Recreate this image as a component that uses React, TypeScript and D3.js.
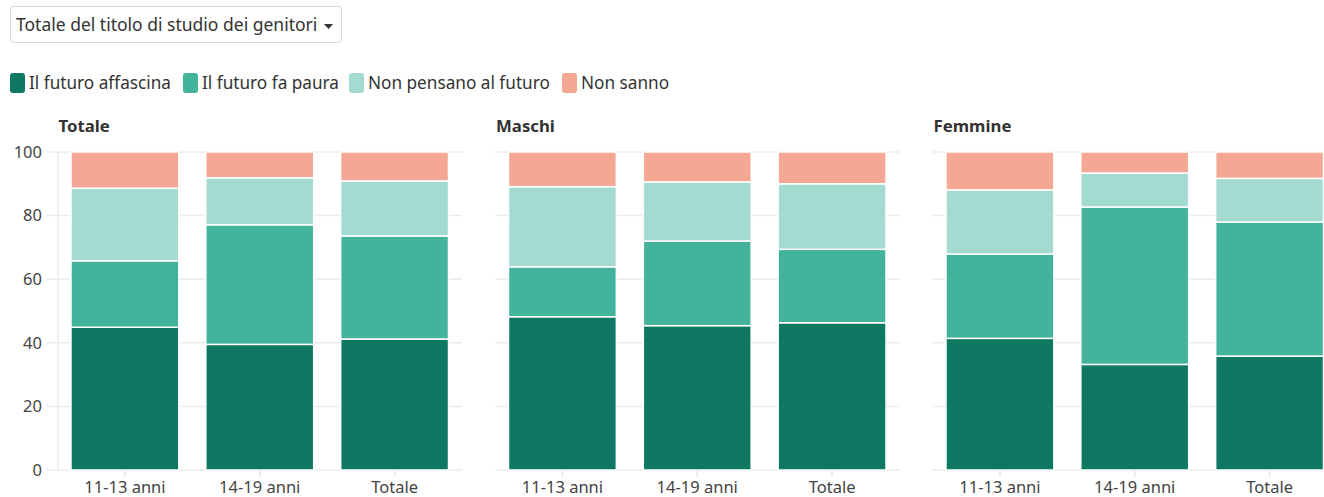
import React from "react";
import * as d3 from "d3";

const panels = ["Totale", "Maschi", "Femmine"];
const categories = ["11-13 anni", "14-19 anni", "Totale"];
const seriesNames = ["Il futuro affascina", "Il futuro fa paura", "Non pensano al futuro", "Non sanno"];
const colors = ["#0f7862", "#43b39b", "#a3dbd0", "#f4a793"];
const yTicks = [0, 20, 40, 60, 80, 100];

// values per panel, per category: [affascina, paura, non pensano, non sanno]
const totaleValues = [
  [44.9, 20.9, 22.8, 11.4],
  [39.5, 37.6, 14.8, 8.1],
  [41.2, 32.4, 17.3, 9.1],
];
const maschiValues = [
  [48.2, 15.7, 25.2, 10.9],
  [45.4, 26.6, 18.6, 9.4],
  [46.3, 23.1, 20.6, 10.0],
];
const femmineValues = [
  [41.4, 26.5, 20.2, 11.9],
  [33.2, 49.5, 10.7, 6.6],
  [35.8, 42.2, 13.7, 8.3],
];
const panelValues = [totaleValues, maschiValues, femmineValues];

const FONT = "'Noto Sans', sans-serif";

export default function App() {
  const W = 1324, H = 497;
  const top = 152, bottom = 470;
  const panelStarts = [57.5, 495, 932.5];
  const panelWidth = 404.5;
  const y = d3.scaleLinear().domain([0, 100]).range([bottom, top]);

  const legendX = [10, 183, 349, 562];

  return (
    <div style={{ position: "absolute", left: 0, top: 0, width: W, height: H, background: "#fff" }}>
      <svg width={W} height={H} style={{ display: "block", fontFamily: FONT }}>
        {/* dropdown */}
        <rect x={10.5} y={6.5} width={331} height={36} rx={3} fill="#fff" stroke="#d6d6d6" />
        <text x={16} y={31} fontSize={17.5} fill="#333">Totale del titolo di studio dei genitori</text>
        <path d="M324,24 L333,24 L328.5,29 Z" fill="#333" />

        {/* legend */}
        {seriesNames.map((s, i) => (
          <g key={s}>
            <rect x={legendX[i]} y={73} width={15} height={20} rx={3} fill={colors[i]} />
            <text x={legendX[i] + 19} y={89} fontSize={17.2} fill="#333">{s}</text>
          </g>
        ))}

        {panels.map((p, pi) => {
          const x0 = panelStarts[pi];
          const x = d3.scaleBand<string>().domain(categories).range([x0, x0 + panelWidth]).paddingInner(0.2).paddingOuter(0.1);
          const rows = panelValues[pi].map((v, ci) => {
            const o: any = { cat: categories[ci] };
            seriesNames.forEach((s, si) => (o[s] = v[si]));
            return o;
          });
          const stacked = d3.stack<any>().keys(seriesNames)(rows);
          return (
            <g key={p}>
              <text x={x0 + 1} y={132} fontSize={16.8} fontWeight={700} fill="#333">{p}</text>
              {yTicks.map((t) => (
                <line key={t} x1={pi === 0 ? 47 : x0} x2={x0 + panelWidth} y1={y(t)} y2={y(t)} stroke="#ebebeb" strokeWidth={1.5} />
              ))}
              {pi === 0 && (
                <line x1={x0 + 0.5} x2={x0 + 0.5} y1={top} y2={bottom} stroke="#ebebeb" strokeWidth={1.5} />
              )}
              {pi === 0 && yTicks.map((t) => (
                <text key={t} x={42} y={y(t)} dy="0.35em" textAnchor="end" fontSize={16.5} fill="#444">{t}</text>
              ))}
              {categories.map((c) => (
                <g key={c}>
                  <line x1={x(c)! + x.bandwidth() / 2} x2={x(c)! + x.bandwidth() / 2} y1={bottom} y2={bottom + 7} stroke="#e6e6e6" strokeWidth={1.5} />
                  <text x={x(c)! + x.bandwidth() / 2} y={493} textAnchor="middle" fontSize={16.5} fill="#444">{c}</text>
                </g>
              ))}
              {stacked.map((layer, si) => (
                <g key={si}>
                  {layer.map((d, ci) => (
                    <rect
                      key={ci}
                      x={x(categories[ci])}
                      width={x.bandwidth()}
                      y={y(d[1])}
                      height={y(d[0]) - y(d[1])}
                      fill={colors[si]}
                      stroke="#fff"
                      strokeWidth={1.5}
                    />
                  ))}
                </g>
              ))}
            </g>
          );
        })}
      </svg>
    </div>
  );
}
